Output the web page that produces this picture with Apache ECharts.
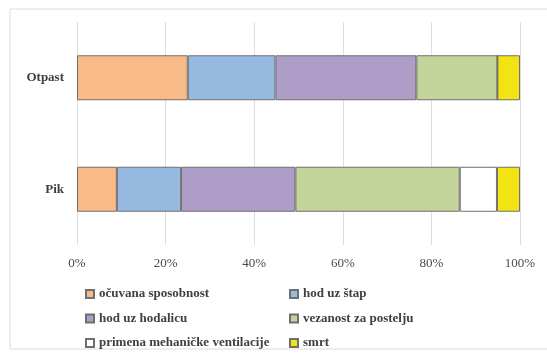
<!DOCTYPE html>
<html>
<head>
<meta charset="utf-8">
<script src="https://cdn.jsdelivr.net/npm/echarts@6/dist/echarts.min.js"></script>
<style>
  html, body { margin: 0; padding: 0; background: #ffffff; }
  #chart { width: 547px; height: 354px; }
</style>
</head>
<body>
<div id="chart"></div>
<script>
// Categories on the vertical axis (bottom to top)
const categories = ['Pik', 'Otpast'];

// Outcome groups, shares in percent: [Pik, Otpast]
const seriesNames = [
  'očuvana sposobnost',
  'hod uz štap',
  'hod uz hodalicu',
  'vezanost za postelju',
  'primena mehaničke ventilacije',
  'smrt'
];
const ocuvanaSposobnost = [9.0, 25.0];
const hodUzStap = [14.5, 19.8];
const hodUzHodalicu = [25.8, 31.8];
const vezanostZaPostelju = [37.1, 18.3];
const mehanickaVentilacija = [8.4, 0];
const smrt = [5.2, 5.1];

const seriesValues = [
  ocuvanaSposobnost, hodUzStap, hodUzHodalicu,
  vezanostZaPostelju, mehanickaVentilacija, smrt
];
const seriesColors = ['#F8BA86', '#96BADF', '#AE9DC7', '#C3D49B', '#FFFFFF', '#F2E313'];

const fontFamily = '"Liberation Serif", "DejaVu Serif", serif';

const chart = echarts.init(document.getElementById('chart'), null, { renderer: 'canvas' });

const series = seriesNames.map((name, i) => ({
  name: name,
  type: 'bar',
  stack: 'total',
  barWidth: 45,
  data: seriesValues[i],
  itemStyle: { color: seriesColors[i], borderColor: '#6f6f6f', borderWidth: 1 },
  emphasis: { disabled: true }
}));

const legendCommon = {
  orient: 'vertical',
  top: 281,
  height: 80,
  itemWidth: 8,
  itemHeight: 8,
  itemGap: 8.5,
  icon: 'rect',
  selectedMode: false,
  textStyle: {
    fontFamily: fontFamily,
    fontSize: 13,
    fontWeight: 'bold',
    color: '#404040',
    lineHeight: 16
  }
};

chart.setOption({
  animation: false,
  backgroundColor: '#ffffff',
  graphic: [{
    type: 'polyline',
    shape: { points: [[620, 9], [10, 9], [10, 349], [620, 349]] },
    style: { fill: 'none', stroke: '#dcdcdc', lineWidth: 1 },
    silent: true,
    z: -1
  }],
  grid: { left: 77, right: 27, top: 22, bottom: 109 },
  xAxis: {
    type: 'value',
    min: 0,
    max: 100,
    interval: 20,
    axisLine: { show: false },
    axisTick: { show: false },
    splitLine: { show: true, lineStyle: { color: '#dedede', width: 1 } },
    axisLabel: {
      formatter: '{value}%',
      margin: 12,
      fontFamily: fontFamily,
      fontSize: 13,
      color: '#4a4a4a'
    }
  },
  yAxis: {
    type: 'category',
    data: categories,
    axisLine: { show: false },
    axisTick: { show: false },
    axisLabel: {
      margin: 13,
      fontFamily: fontFamily,
      fontSize: 13,
      fontWeight: 'bold',
      color: '#404040'
    }
  },
  legend: [
    Object.assign({}, legendCommon, {
      left: 80,
      data: [seriesNames[0], seriesNames[2], seriesNames[4]]
    }),
    Object.assign({}, legendCommon, {
      left: 284,
      data: [seriesNames[1], seriesNames[3], seriesNames[5]]
    })
  ],
  series: series
});
</script>
</body>
</html>
